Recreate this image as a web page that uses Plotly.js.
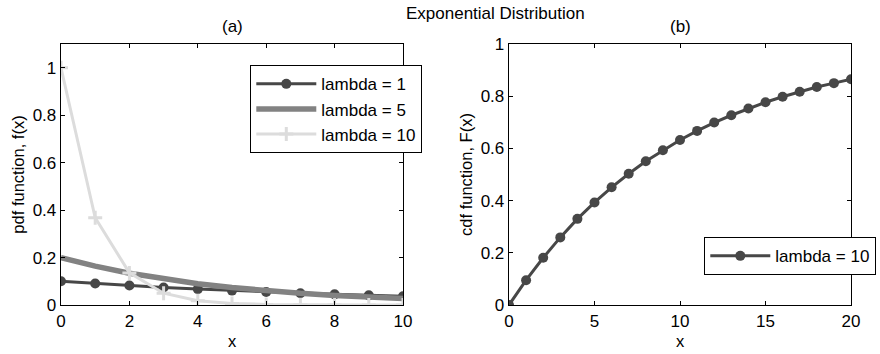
<!DOCTYPE html>
<html><head><meta charset="utf-8">
<script src="https://cdn.plot.ly/plotly-3.0.1.min.js"></script>
<style>html,body{margin:0;padding:0;background:#fff}#c{width:880px;height:354px}</style>
</head><body><div id="c"></div>
<script>
const xPdf = [0,1,2,3,4,5,6,7,8,9,10];
const pdfLambda1 = [0.100,0.0905,0.0819,0.0741,0.0670,0.0607,0.0549,0.0497,0.0449,0.0407,0.0368];
const pdfLambda5 = [0.200,0.1637,0.1341,0.1098,0.0899,0.0736,0.0602,0.0493,0.0404,0.0331,0.0271];
const pdfLambda10 = [1.000,0.3679,0.1353,0.0498,0.0183,0.0067,0.0025,0.0009,0.0003,0.0001,0.0000];
const xCdf = [0,1,2,3,4,5,6,7,8,9,10,11,12,13,14,15,16,17,18,19,20];
const cdfLambda10 = [0,0.095,0.181,0.259,0.330,0.393,0.451,0.503,0.551,0.593,0.632,0.667,0.699,0.727,0.753,0.777,0.798,0.817,0.835,0.850,0.865];
const names = ['lambda = 1','lambda = 5','lambda = 10'];
const yTicks = [0,0.2,0.4,0.6,0.8,1];
const yTickText = ['0','0.2','0.4','0.6','0.8','1'];

const fam = 'Liberation Sans, Arial, sans-serif';
const tickFont = {family:fam, size:17, color:'#000'};
const labFont = {family:fam, size:16.5, color:'#000'};
const titFont = {family:fam, size:17, color:'#000'};
const legFont = {family:fam, size:17, color:'#000'};
const dark = '#474747', mid = '#828282', light = '#dcdcdc';
const traces = [
  {x:xPdf, y:pdfLambda1, name:names[0], mode:'lines+markers', line:{color:dark, width:3},
   marker:{symbol:'circle', size:10, color:dark}, xaxis:'x', yaxis:'y', legend:'legend'},
  {x:xPdf, y:pdfLambda5, name:names[1], mode:'lines', line:{color:mid, width:5.5},
   xaxis:'x', yaxis:'y', legend:'legend'},
  {x:xPdf, y:pdfLambda10, name:names[2], mode:'lines+markers', line:{color:light, width:3},
   marker:{symbol:'cross-thin', size:10, color:light, line:{color:light, width:3}}, xaxis:'x', yaxis:'y', legend:'legend'},
  {x:xCdf, y:cdfLambda10, name:names[2], mode:'lines+markers', line:{color:dark, width:3},
   marker:{symbol:'circle', size:10, color:dark}, xaxis:'x2', yaxis:'y2', legend:'legend2'}
];
const ax = {showline:true, linecolor:'#000', linewidth:1.3, mirror:'ticks', ticks:'inside', ticklen:4,
  tickcolor:'#000', showgrid:false, zeroline:false, tickfont:tickFont, automargin:false};
const W=880, H=354, ml=61, mr=880-851, mt=44, mb=354-305;
const pw = W-ml-mr, ph = H-mt-mb;
const layout = {
  width:W, height:H, margin:{l:ml, r:mr, t:mt, b:mb, autoexpand:false}, paper_bgcolor:'#fff', plot_bgcolor:'#fff',
  font:labFont, showlegend:true,
  xaxis:Object.assign({}, ax, {domain:[0,(403-61)/pw], range:[0,10], dtick:2, title:{text:'x', font:labFont, standoff:5}}),
  yaxis:Object.assign({}, ax, {range:[0,1.1], tickvals:yTicks, ticktext:yTickText, title:{text:'pdf function, f(x)', font:labFont, standoff:4}}),
  xaxis2:Object.assign({}, ax, {domain:[(509-61)/pw,1], range:[0,20], dtick:5, anchor:'y2', title:{text:'x', font:labFont, standoff:5}}),
  yaxis2:Object.assign({}, ax, {range:[0,1], tickvals:yTicks, ticktext:yTickText, anchor:'x2', title:{text:'cdf function, F(x)', font:labFont, standoff:4}}),
  legend:{x:(250-61)/pw, y:(305-65)/ph, xanchor:'left', yanchor:'top', bgcolor:'#fff', bordercolor:'#000', borderwidth:1.3,
    font:legFont, itemwidth:60, tracegroupgap:0},
  legend2:{x:(704-61)/pw, y:(305-237)/ph, xanchor:'left', yanchor:'top', bgcolor:'#fff', bordercolor:'#000', borderwidth:1.3,
    font:legFont, itemwidth:60},
  annotations:[
    {text:'Exponential Distribution', xref:'paper', yref:'paper', x:(495-61)/pw, y:(305-14)/ph, showarrow:false, font:titFont, xanchor:'center', yanchor:'middle'},
    {text:'(a)', xref:'paper', yref:'paper', x:(232-61)/pw, y:(305-27)/ph, showarrow:false, font:titFont, xanchor:'center', yanchor:'middle'},
    {text:'(b)', xref:'paper', yref:'paper', x:(680-61)/pw, y:(305-27)/ph, showarrow:false, font:titFont, xanchor:'center', yanchor:'middle'}
  ]
};
Plotly.newPlot('c', traces, layout, {displayModeBar:false, staticPlot:true});
</script></body></html>
